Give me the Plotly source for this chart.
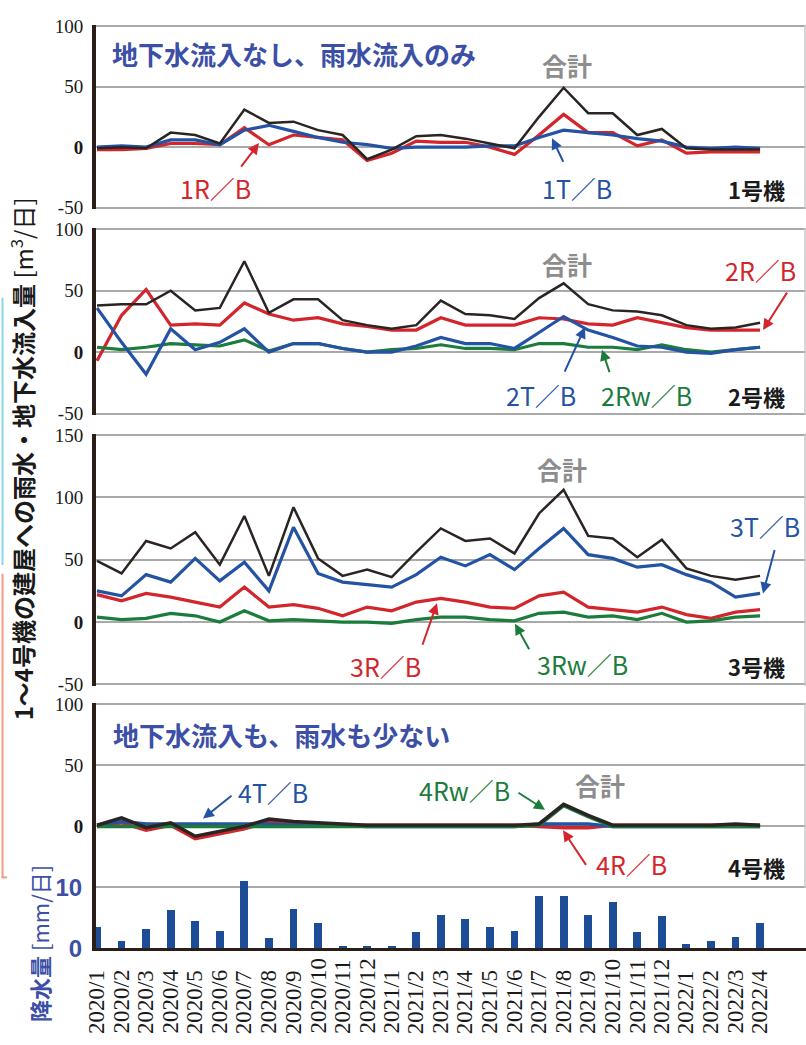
import plotly.graph_objects as go

# ---- data -------------------------------------------------------------
months = [
    "2020/1", "2020/2", "2020/3", "2020/4", "2020/5", "2020/6", "2020/7",
    "2020/8", "2020/9", "2020/10", "2020/11", "2020/12", "2021/1", "2021/2",
    "2021/3", "2021/4", "2021/5", "2021/6", "2021/7", "2021/8", "2021/9",
    "2021/10", "2021/11", "2021/12", "2022/1", "2022/2", "2022/3", "2022/4",
]

# Unit 1 inflow [m3/day]
u1_total = [-1, 0, -1, 12, 10, 3, 31, 20, 21, 14, 10, -10, -2, 9, 10, 7, 3, -1, 25, 49, 28, 28, 10, 15, -1, -2, -2, -2]
u1_rb = [-2, -2, -1, 3, 3, 2, 16, 2, 10, 8, 6, -11, -5, 5, 4, 4, 0, -6, 10, 27, 12, 12, 1, 6, -5, -4, -4, -4]
u1_tb = [0, 1, 0, 6, 6, 2, 14, 18, 13, 8, 4, 2, -1, 0, 0, 0, 1, 1, 8, 14, 12, 10, 7, 5, 0, -1, 0, -1]

# Unit 2 inflow [m3/day]
u2_total = [38, 39, 39, 50, 34, 36, 74, 32, 43, 43, 26, 22, 19, 22, 42, 31, 30, 27, 44, 56, 39, 34, 33, 30, 22, 19, 20, 24]
u2_rb = [-7, 30, 51, 22, 23, 22, 40, 31, 26, 28, 23, 21, 18, 18, 28, 22, 22, 22, 28, 27, 23, 22, 28, 24, 20, 18, 18, 18]
u2_tb = [36, 8, -18, 19, 2, 8, 19, 0, 7, 7, 3, 0, 0, 5, 12, 7, 7, 3, 16, 29, 18, 12, 5, 4, 0, -1, 2, 4]
u2_rwb = [4, 2, 4, 7, 6, 5, 10, 1, 7, 7, 3, 0, 2, 3, 6, 3, 3, 2, 7, 7, 4, 4, 2, 6, 2, 0, 2, 4]

# Unit 3 inflow [m3/day]
u3_total = [49, 39, 65, 59, 72, 46, 85, 37, 92, 51, 37, 42, 36, 56, 75, 65, 67, 55, 87, 106, 69, 67, 52, 66, 43, 37, 34, 37]
u3_tb = [25, 21, 38, 32, 51, 33, 48, 25, 76, 39, 32, 30, 28, 38, 52, 45, 54, 42, 59, 75, 54, 51, 44, 46, 38, 32, 20, 23]
u3_rb = [22, 17, 23, 20, 16, 12, 28, 12, 14, 11, 5, 12, 9, 16, 19, 16, 12, 11, 21, 24, 12, 10, 8, 12, 6, 3, 8, 10]
u3_rwb = [4, 2, 3, 7, 5, 0, 9, 1, 2, 1, 0, 0, -1, 2, 4, 4, 2, 1, 7, 8, 4, 5, 2, 7, 0, 1, 4, 5]

# Unit 4 inflow [m3/day]
u4_total = [1, 7, -1, 3, -8, -4, 0, 6, 4, 3, 2, 1, 1, 1, 1, 1, 1, 1, 2, 18, 9, 1, 1, 1, 1, 1, 2, 1]
u4_rb = [0, 3, -3, 1, -10, -6, -2, 4, 3, 2, 1, 1, 1, 1, 1, 1, 1, 1, 0, -1, -1, 1, 1, 1, 1, 1, 1, 1]
u4_tb = [1, 4, 2, 2, 2, 2, 2, 2, 1, 1, 1, 0, 0, 0, 0, 0, 0, 0, 2, 2, 2, 0, 0, 0, 0, 0, 0, 0]
u4_rwb = [0, 0, 0, 0, 0, 0, 0, 0, 0, 0, 0, 0, 0, 0, 0, 0, 0, 0, 1, 17, 8, 0, 0, 0, 0, 0, 0, 0]

# Precipitation [mm/day]
rain = [3.4, 1.2, 3.1, 6.2, 4.4, 2.8, 11.0, 1.6, 6.4, 4.1, 0.4, 0.4, 0.4, 2.6, 5.5, 4.8, 3.4, 2.9, 8.6, 8.6, 5.5, 7.5, 2.6, 5.2, 0.7, 1.2, 1.9, 4.1]

# ---- style ------------------------------------------------------------
W, H = 806, 1045
C_TOTAL = "#2a2422"
C_RED = "#d3262c"
C_BLUE = "#2453a3"
C_GREEN = "#1b7c3c"
C_TITLE = "#3b4fa6"
C_GREY = "#8d8d8d"
C_GRID = "#a9a9a9"
C_AXIS = "#2b1d18"
SERIF = "Liberation Serif"
JP = "Noto Sans CJK JP"


def px(x):
    return x / W


def py(y):
    return 1 - y / H


def ydomain(y_hi_px, y_lo_px, v_hi, v_lo, r_lo, r_hi):
    k = (y_lo_px - y_hi_px) / (v_hi - v_lo)
    top = y_hi_px - (r_hi - v_hi) * k
    bot = y_lo_px + (v_lo - r_lo) * k
    return [py(bot), py(top)]


fig = go.Figure()


def line(y, color, axis, width=3.2):
    fig.add_trace(go.Scatter(
        x=months, y=y, mode="lines", yaxis=axis,
        line=dict(color=color, width=width), showlegend=False,
        hoverinfo="skip",
    ))


# unit 1
line(u1_rb, C_RED, "y")
line(u1_tb, C_BLUE, "y")
line(u1_total, C_TOTAL, "y", 2.5)
# unit 2
line(u2_rb, C_RED, "y2")
line(u2_rwb, C_GREEN, "y2")
line(u2_tb, C_BLUE, "y2")
line(u2_total, C_TOTAL, "y2", 2.5)
# unit 3
line(u3_rb, C_RED, "y3")
line(u3_rwb, C_GREEN, "y3")
line(u3_tb, C_BLUE, "y3")
line(u3_total, C_TOTAL, "y3", 2.5)
# unit 4
line(u4_rb, C_RED, "y4", 3.5)
line(u4_tb, C_BLUE, "y4", 3.5)
line(u4_rwb, C_GREEN, "y4", 3.5)
line(u4_total, C_TOTAL, "y4", 3.5)

# precipitation
fig.add_trace(go.Bar(
    x=months, y=rain, yaxis="y5", width=0.32,
    marker=dict(color="#1c4d96", line=dict(width=0)),
    showlegend=False, hoverinfo="skip",
))


def yax(domain, rng, vals, tick_font=None, texts=None):
    if texts is None:
        texts = ["<b>0</b>" if v == 0 else str(v) for v in vals]
    return dict(
        domain=domain, range=rng, anchor="x",
        tickmode="array", tickvals=vals, ticktext=texts,
        showgrid=True, gridcolor=C_GRID, gridwidth=1.5,
        zeroline=False, showline=True, linecolor=C_AXIS, linewidth=4,
        ticks="", ticklabelstandoff=5,
        tickfont=tick_font or dict(family=SERIF, size=19, color="#1a1a1a"),
        fixedrange=True,
    )


dom1 = ydomain(17.3, 203, 100, -50, -51, 101)
dom2 = ydomain(225, 413.3, 100, -50, -51, 101)
dom3 = ydomain(435, 690, 150, -50, -51, 151)
dom4 = ydomain(710, 897.5, 100, -50, -50, 101)
dom5 = ydomain(897, 959.3, 10, 0, 0, 12)

fig.update_layout(
    width=W, height=H, autosize=False,
    margin=dict(l=0, r=0, t=0, b=0),
    paper_bgcolor="white", plot_bgcolor="white",
    bargap=0,
    xaxis=dict(
        domain=[px(96), 1], type="category", range=[-0.041, 28.87],
        anchor="y5", showticklabels=False, showgrid=False, zeroline=False,
        showline=True, linecolor=C_AXIS, linewidth=3, ticks="",
        fixedrange=True,
    ),
    yaxis=yax(dom1, [-51, 101], [-50, 0, 50, 100]),
    yaxis2=yax(dom2, [-51, 101], [-50, 0, 50, 100]),
    yaxis3=yax(dom3, [-51, 151], [-50, 0, 50, 100, 150]),
    yaxis4=yax(dom4, [-50, 101], [0, 50, 100]),
    yaxis5=yax(dom5, [0, 12], [0, 10],
               tick_font=dict(family="Liberation Sans", size=24, color=C_TITLE),
               texts=["<b>0</b>", "<b>10</b>"]),
)

ann = []


def text(x, y, s, color, size=25, bold=False, family=JP, xanchor="center"):
    ann.append(dict(
        x=px(x), y=py(y), xref="paper", yref="paper", text=f"<b>{s}</b>" if bold else s,
        showarrow=False, xanchor=xanchor, yanchor="middle",
        font=dict(family=family, size=size, color=color),
    ))


def arrow(x0, y0, x1, y1, color):
    ann.append(dict(
        x=px(x1), y=py(y1), xref="paper", yref="paper", text="",
        showarrow=True, ax=x0 - x1, ay=y0 - y1, axref="pixel", ayref="pixel",
        arrowhead=2, arrowsize=1.1, arrowwidth=2, arrowcolor=color, standoff=0,
    ))


# panel titles
text(110, 45, "地下水流入なし、雨水流入のみ", C_TITLE, 26, True, xanchor="left")
text(111, 741, "地下水流入も、雨水も少ない", C_TITLE, 26, True, xanchor="left")

# totals
text(567, 57, "合計", C_GREY, 25, True)
text(567, 260, "合計", C_GREY, 25, True)
text(562, 470, "合計", C_GREY, 25, True)
text(600, 793, "合計", C_GREY, 25, True)

# unit names
for yy, s in [(184, "1号機"), (395, "2号機"), (671, "3号機"), (876, "4号機")]:
    text(756, yy, s, "#1a1a1a", 22, True)

# series labels with arrows
text(215, 183, "1R／B", C_RED)
arrow(240, 162, 259, 137, C_RED)
text(577, 183, "1T／B", C_BLUE)
arrow(564, 157, 552, 132, C_BLUE)

text(760, 267, "2R／B", C_RED)
arrow(788, 289, 763, 328, C_RED)
text(541, 394, "2T／B", C_BLUE)
arrow(564, 371, 585, 325, C_BLUE)
text(646, 394, "2Rw／B", C_GREEN)
arrow(610, 372, 602, 348, C_GREEN)

text(765, 528, "3T／B", C_BLUE)
arrow(775, 552, 763, 597, C_BLUE)
text(385, 671, "3R／B", C_RED)
arrow(422, 650, 437, 607, C_RED)
text(582, 669, "3Rw／B", C_GREEN)
arrow(530, 655, 515, 628, C_GREEN)

text(273, 800, "4T／B", C_BLUE)
arrow(233, 803, 203, 827, C_BLUE)
text(464, 798, "4Rw／B", C_GREEN)
arrow(517, 800, 545, 818, C_GREEN)
text(631, 873, "4R／B", C_RED)
arrow(587, 875, 563, 839, C_RED)

# axis titles
ann.append(dict(
    x=px(22), y=py(460), xref="paper", yref="paper", textangle=-90,
    text="<b>1～4号機の建屋への雨水・地下水流入量</b> [m<sup>3</sup>/日]",
    showarrow=False, xanchor="center", yanchor="middle",
    font=dict(family=JP, size=24, color="#1a1a1a"),
))
ann.append(dict(
    x=px(39), y=py(955), xref="paper", yref="paper", textangle=-90,
    text="<b>降水量</b> [mm/日]",
    showarrow=False, xanchor="center", yanchor="middle",
    font=dict(family=JP, size=22, color=C_TITLE),
))

# month labels, rotated and aligned at their start
for m in months:
    ann.append(dict(
        x=m, xref="x", y=py(1049), yref="paper", text=m, textangle=-90,
        showarrow=False, xanchor="center", yanchor="bottom",
        font=dict(family=SERIF, size=23, color="#1a1a1a"),
    ))

fig.update_layout(annotations=ann)

# right frame edge of each panel and edge markers on the left margin
shapes = []
for d in (dom1, dom2, dom3, dom4):
    shapes.append(dict(type="line", xref="paper", yref="paper", x0=px(805), x1=px(805),
                       y0=d[0], y1=d[1], line=dict(color="#c9c9c9", width=1.5)))
shapes += [
    dict(type="line", xref="paper", yref="paper", x0=px(2.5), x1=px(2.5),
         y0=py(295), y1=py(568), line=dict(color="#8ad7ea", width=2)),
    dict(type="line", xref="paper", yref="paper", x0=px(2.5), x1=px(2.5),
         y0=py(577), y1=py(887), line=dict(color="#f39b85", width=2)),
    dict(type="line", xref="paper", yref="paper", x0=px(1.5), x1=px(7),
         y0=py(887), y1=py(887), line=dict(color="#f39b85", width=2)),
]
fig.update_layout(shapes=shapes)

fig.write_html("out.html")
